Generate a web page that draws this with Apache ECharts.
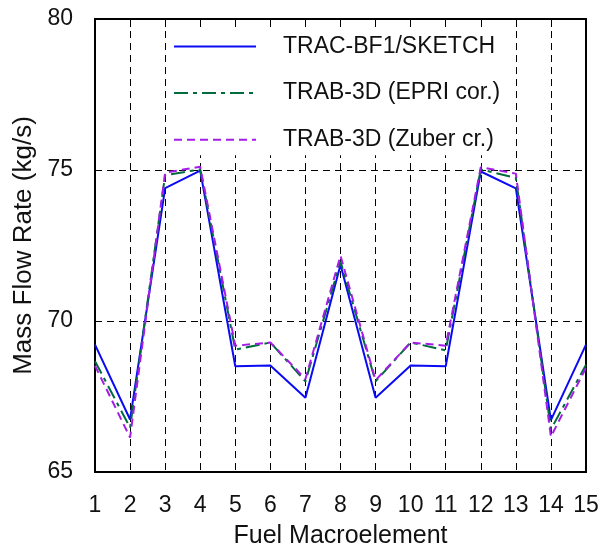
<!DOCTYPE html>
<html>
<head>
<meta charset="utf-8">
<script src="https://cdn.jsdelivr.net/npm/echarts@6/dist/echarts.min.js"></script>
<style>
html,body{margin:0;padding:0;background:#fff;}
#chart{width:600px;height:552px;}
</style>
</head>
<body>
<div id="chart"></div>
<script>
var categories = ['1','2','3','4','5','6','7','8','9','10','11','12','13','14','15'];
var seriesNames = ['TRAC-BF1/SKETCH', 'TRAB-3D (EPRI cor.)', 'TRAB-3D (Zuber cr.)'];
var tracSketch = [69.22, 66.74, 74.40, 74.98, 68.50, 68.53, 67.46, 71.86, 67.46, 68.53, 68.50, 74.95, 74.39, 66.72, 69.22];
var trabEpri   = [68.67, 66.47, 74.83, 75.02, 69.05, 69.29, 68.00, 71.97, 68.00, 69.29, 69.03, 75.02, 74.74, 66.41, 68.55];
var trabZuber  = [68.52, 66.14, 74.91, 75.11, 69.18, 69.29, 68.08, 72.16, 68.04, 69.29, 69.18, 75.09, 74.88, 66.17, 68.45];
var yTicks = [65, 70, 75, 80];

var FONT = "'Liberation Sans', Arial, sans-serif";
var chart = echarts.init(document.getElementById('chart'), null, {renderer: 'canvas'});
var option = {
  animation: false,
  backgroundColor: '#fff',
  grid: {left: 95, right: 14, top: 19, bottom: 80, show: true, borderColor: '#000', borderWidth: 2,
         backgroundColor: 'transparent', outerBoundsMode: 'none', containLabel: false},
  legend: {
    orient: 'vertical', left: 167, top: 27, z: 4,
    backgroundColor: '#fff',
    padding: [8, 12, 4, 6],
    itemWidth: 82, itemHeight: 14, itemGap: 23.6,
    itemStyle: {opacity: 0},
    textStyle: {fontFamily: FONT, fontSize: 23, color: '#111', lineHeight: 23, padding: [0, 0, 0, 22]},
    data: seriesNames
  },
  xAxis: [{
    type: 'category', data: categories, boundaryGap: false,
    name: 'Fuel Macroelement', nameLocation: 'middle', nameGap: 52,
    nameTextStyle: {fontFamily: FONT, fontSize: 25, color: '#111'},
    axisLine: {lineStyle: {color: '#000', width: 2}},
    axisTick: {show: false},
    axisLabel: {fontFamily: FONT, fontSize: 23, color: '#111', margin: 22, interval: 0},
    splitLine: {show: true, lineStyle: {color: '#000', width: 1, type: [7, 5]}}
  }, {
    type: 'category', data: categories, boundaryGap: false, position: 'top', z: 6,
    axisLine: {show: false},
    axisTick: {show: true, inside: true, length: 8, interval: 0, lineStyle: {color: '#000', width: 1}},
    axisLabel: {show: false},
    splitLine: {show: false}
  }],
  yAxis: {
    type: 'value', min: yTicks[0], max: yTicks[yTicks.length - 1], interval: 5,
    name: 'Mass Flow Rate (kg/s)', nameLocation: 'middle', nameGap: 58,
    nameTextStyle: {fontFamily: FONT, fontSize: 26, color: '#111'},
    axisLine: {show: true, lineStyle: {color: '#000', width: 2}},
    axisTick: {show: false},
    axisLabel: {fontFamily: FONT, fontSize: 23, color: '#111', margin: 22},
    splitLine: {show: true, lineStyle: {color: '#000', width: 1, type: [7, 5]}}
  },
  series: [{
    name: seriesNames[0], type: 'line', data: tracSketch, symbol: 'none', z: 2,
    itemStyle: {color: '#0a0af5'},
    lineStyle: {color: '#0a0af5', width: 2, type: 'solid'}
  }, {
    name: seriesNames[1], type: 'line', data: trabEpri, symbol: 'none', z: 2,
    itemStyle: {color: '#006b3c'},
    lineStyle: {color: '#006b3c', width: 2, type: [14, 5, 4, 5]}
  }, {
    name: seriesNames[2], type: 'line', data: trabZuber, symbol: 'none', z: 2,
    itemStyle: {color: '#a31de6'},
    lineStyle: {color: '#a31de6', width: 2, type: [8, 5]}
  }]
};
chart.setOption(option);
</script>
</body>
</html>
